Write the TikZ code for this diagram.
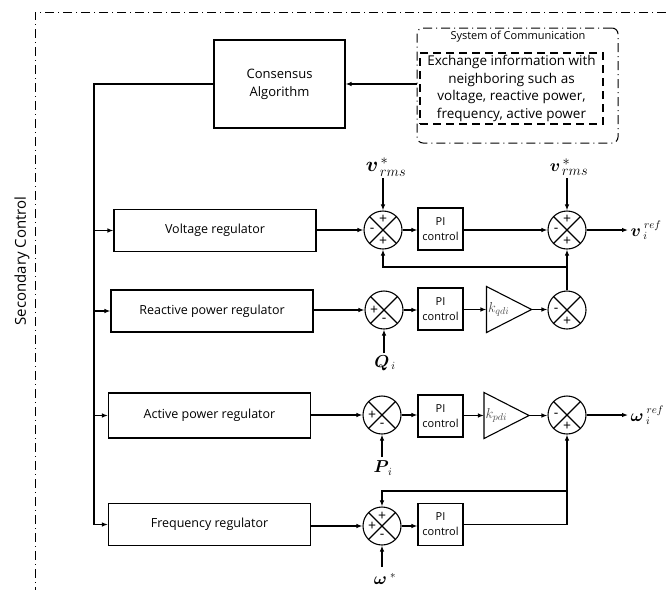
\documentclass[tikz,border=0pt]{standalone}
\usepackage{fontspec}
\setmainfont{Open Sans}
\usepackage{bm}
\usetikzlibrary{arrows.meta,calc}
\begin{document}
\begin{tikzpicture}[x=1pt,y=-1pt,
  line width=1.1pt,
  arr/.style={-{Latex[length=6pt,width=4.5pt]}},
  regbox/.style={draw, minimum width=202pt, minimum height=42pt, inner sep=0pt, font=\fontsize{12.5}{14}\selectfont},
  pibox/.style={draw, minimum width=45pt, minimum height=42pt, inner sep=0pt, align=center, font=\fontsize{11}{15}\selectfont},
  sumj/.style={draw, circle, minimum size=38pt, inner sep=0pt,
    path picture={\draw (path picture bounding box.north west) -- (path picture bounding box.south east)
                        (path picture bounding box.north east) -- (path picture bounding box.south west);}},
  sgn/.style={font=\fontsize{14}{14}\selectfont, inner sep=0pt},
  tri/.style={minimum width=44pt, minimum height=45pt, inner sep=0pt},
  ddframe/.style={line width=1pt, dash pattern=on 9pt off 4pt on 1pt off 4pt},
  klab/.style={font=\fontsize{14}{14}\selectfont, text=black!70, anchor=west, inner sep=1pt},
  mlab/.style={inner sep=0pt, font=\fontsize{16}{18}\selectfont},
]
\useasboundingbox (0,0) rectangle (666,590);

% outer frame
\draw[ddframe] (666,12) -- (35,12) -- (35,590);
\node[rotate=90, font=\fontsize{15}{16}\selectfont] (sc) at (22,261) {Secondary Control};

% consensus
\node[draw, minimum width=131pt, minimum height=88pt, inner sep=0pt, align=center,
      font=\fontsize{13}{18}\selectfont] (cons) at (279.5,84) {Consensus\\Algorithm};

% communication
\node[draw, ddframe, rounded corners=6pt, minimum width=201pt, minimum height=115pt] (comm) at (517.5,85.5) {};
\node[font=\fontsize{11}{13}\selectfont] (commt) at (518,37) {System of Communication};
\node[draw, dash pattern=on 8pt off 5pt, minimum width=183pt, minimum height=71pt, inner sep=0pt, align=center,
      font=\fontsize{13.5}{17.5}\selectfont] (info) at (511.5,88.5)
      {Exchange information with\\neighboring such as\\voltage, reactive power,\\frequency, active power};
\draw[arr] (comm.west |- cons.east) -- (cons.east);

% regulators
\node[regbox] (V) at (215,230.5) {Voltage regulator};
\node[regbox] (R) at (212,311) {Reactive power regulator};
\node[regbox, minimum height=45pt] (A) at (209.5,415.5) {Active power regulator};
\node[regbox] (F) at (209.5,524.5) {Frequency regulator};

% bus
\coordinate (bus) at (94,84);
\draw (cons.west) -- (bus) -- (bus |- F.west);
\draw[arr] (bus |- V.west) -- (V.west);
\draw[arr] (bus |- R.west) -- (R.west);
\draw[arr] (bus |- A.west) -- (A.west);
\draw[arr] (bus |- F.west) -- (F.west);

% summing junctions
\node[sumj] (S1) at (383,230) {};
\node[sumj] (S2) at (567,230) {};
\node[sumj] (S3) at (384,310) {};
\node[sumj] (S4) at (567,310) {};
\node[sumj] (S5) at (382,415) {};
\node[sumj] (S6) at (567,415) {};
\node[sumj] (S7) at (382,526) {};

% PI boxes
\node[pibox] (P1) at (440.5,229) {PI\\control};
\node[pibox] (P2) at (440.5,309) {PI\\control};
\node[pibox] (P3) at (440.5,416) {PI\\control};
\node[pibox] (P4) at (440.5,524.5) {PI\\control};

% gains
\node[tri] (T1) at (509,309.5) {};
\draw (T1.north west) -- (T1.east) -- (T1.south west) -- cycle;
\node[klab] (k1) at (T1.west) {$k_{qdi}$};
\node[tri] (T2) at (506.5,415.5) {};
\draw (T2.north west) -- (T2.east) -- (T2.south west) -- cycle;
\node[klab] (k2) at (T2.west) {$k_{pdi}$};

% signs
\node[sgn] at ([yshift=11pt]S1.center) {+};
\node[sgn] at ([xshift=-11pt]S1.center) {-};
\node[sgn] at ([yshift=-11pt]S1.center) {+};
\node[sgn] at ([yshift=11pt]S2.center) {+};
\node[sgn] at ([xshift=-11pt]S2.center) {-};
\node[sgn] at ([yshift=-11pt]S2.center) {+};
\node[sgn] at ([xshift=-10pt]S3.center) {+};
\node[sgn] at ([yshift=-10pt]S3.center) {-};
\node[sgn] at ([xshift=-11pt]S4.center) {-};
\node[sgn] at ([yshift=-11pt]S4.center) {+};
\node[sgn] at ([xshift=-10pt]S5.center) {+};
\node[sgn] at ([yshift=-10pt]S5.center) {-};
\node[sgn] at ([xshift=-11pt]S6.center) {-};
\node[sgn] at ([yshift=-11pt]S6.center) {+};
\node[sgn] at ([yshift=10pt]S7.center) {+};
\node[sgn] at ([xshift=-10pt]S7.center) {+};
\node[sgn] at ([yshift=-10pt]S7.center) {-};

% forward paths
\draw[arr] (V.east |- S1.west) -- (S1.west);
\draw[arr] (R.east |- S3.west) -- (S3.west);
\draw[arr] (A.east |- S5.west) -- (S5.west);
\draw[arr] (F.east |- S7.west) -- (S7.west);
\draw[arr] (S1.east) -- (P1.west |- S1.east);
\draw[arr] (S3.east) -- (P2.west |- S3.east);
\draw[arr] (S5.east) -- (P3.west |- S5.east);
\draw[arr] (S7.east) -- (P4.west |- S7.east);
\draw[arr] (P1.east |- S2.west) -- (S2.west);
\draw[arr] (P2.east |- T1.west) -- (T1.west);
\draw[arr] (T1.east) -- (S4.west |- T1.east);
\draw[arr] (P3.east |- T2.west) -- (T2.west);
\draw[arr] (T2.east) -- (S6.west |- T2.east);

% outputs
\coordinate (vout) at (628,230);
\draw[arr] (S2.east) -- (vout);
\node[mlab, anchor=west] (vref) at ([xshift=2pt]vout) {$\bm{v}_{\;i}^{\;ref}$};
\coordinate (wout) at (628,415);
\draw[arr] (S6.east) -- (wout);
\node[mlab, anchor=west] (wref) at ([xshift=2pt]wout) {$\bm{\omega}_{\;i}^{\;ref}$};

% feedback paths
\coordinate (fb1) at (567,267);
\draw (S4.north) -- (fb1);
\draw[arr] (fb1) -- (S2.south);
\draw[arr] (fb1) -| (S1.south);
\draw[arr] (P4.east) -| (S6.south);
\coordinate (fb2) at (567,491);
\draw[arr] (fb2) -| (S7.north);

% references
\coordinate (vr1) at (383,178);
\draw[arr] (vr1) -- (S1.north);
\node[mlab, font=\fontsize{21}{22}\selectfont] (vrms1) at (386,167) {$\bm{v}^{\,*}_{\,rms}$};
\coordinate (vr2) at (567,178);
\draw[arr] (vr2) -- (S2.north);
\node[mlab, font=\fontsize{19}{20}\selectfont] (vrms2) at (569,167) {$\bm{v}^{\,*}_{\,rms}$};
\coordinate (qin) at (384,353);
\draw[arr] (qin) -- (S3.south);
\node[mlab] (qlab) at (385,363) {$\bm{Q}_{\,i}$};
\coordinate (pin) at (382,457);
\draw[arr] (pin) -- (S5.south);
\node[mlab] (plab) at (383,468) {$\bm{P}_{\,i}$};
\coordinate (win) at (382,567);
\draw[arr] (win) -- (S7.south);
\node[mlab] (wlab) at (385,579) {$\bm{\omega}^{\;*}$};
\end{tikzpicture}
\end{document}
